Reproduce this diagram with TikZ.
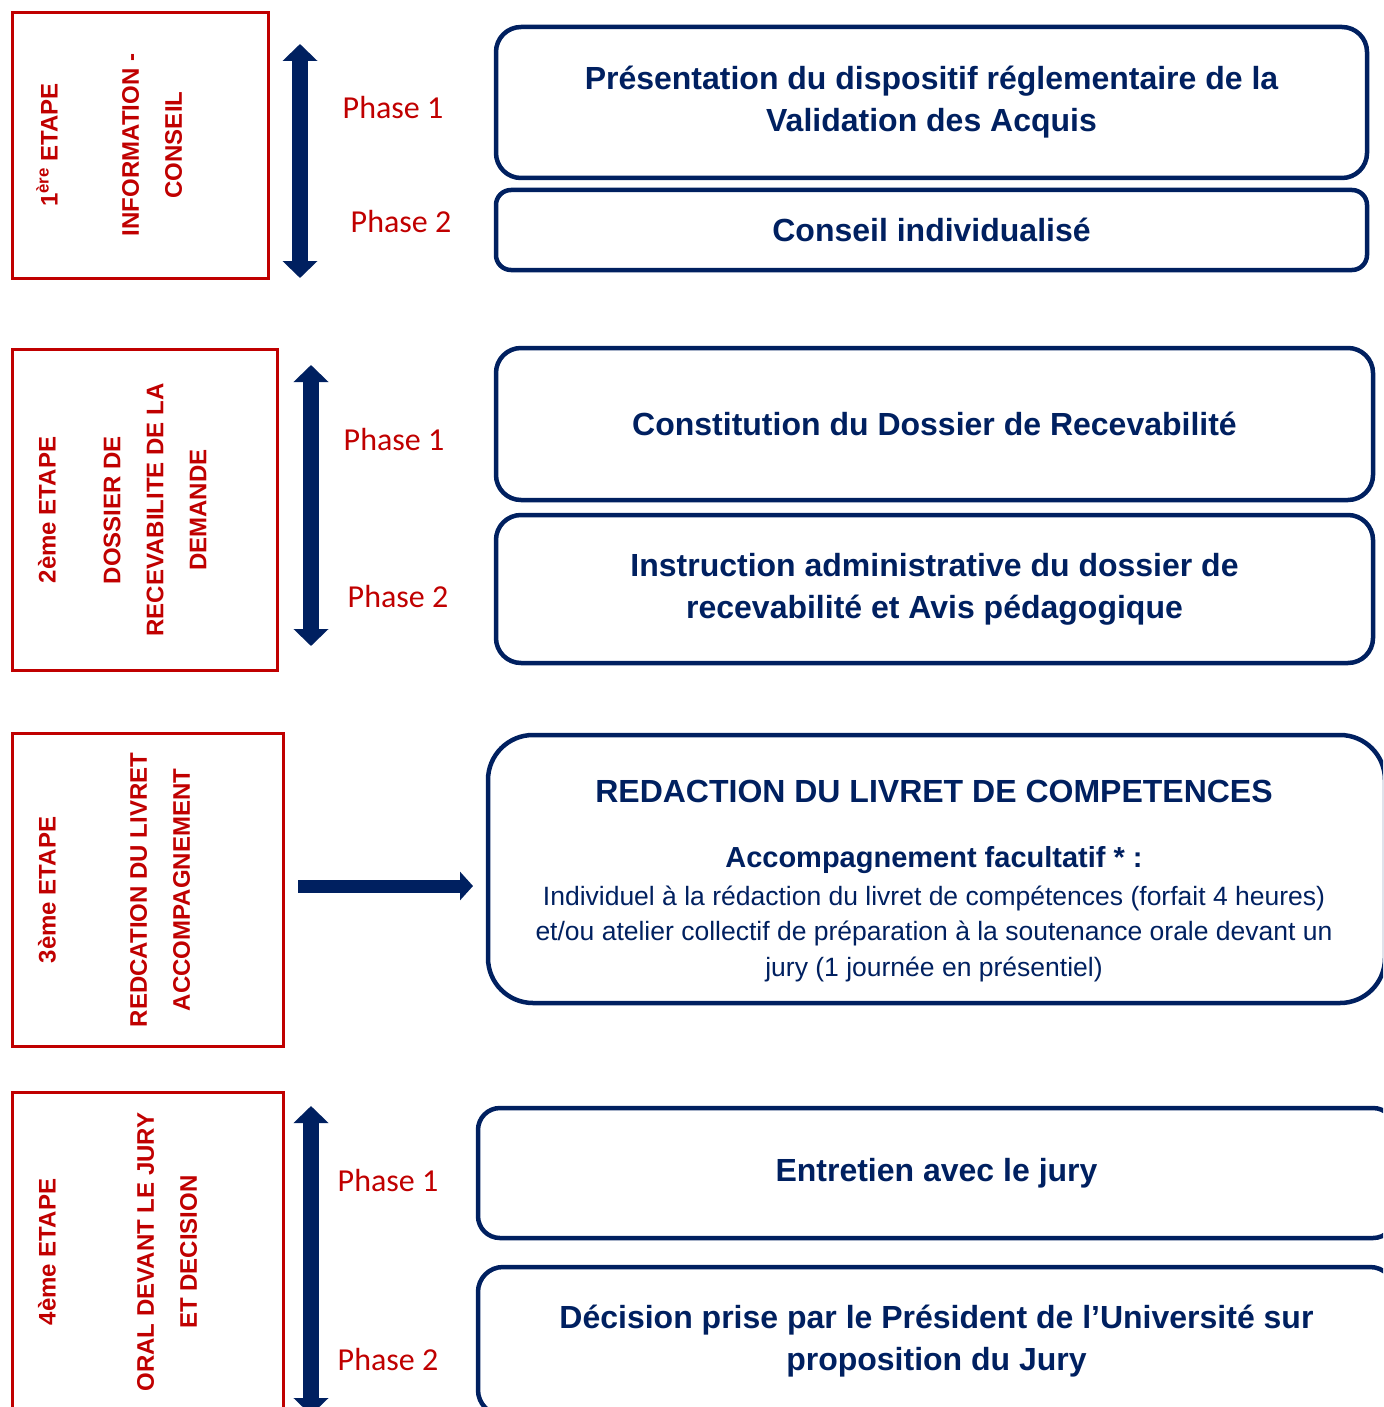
\documentclass[tikz,border=0pt]{standalone}
\usepackage{fontspec}
\setmainfont{Liberation Sans}
\newfontfamily\phasefont{Carlito}
\usetikzlibrary{arrows.meta}
\definecolor{vred}{HTML}{C00000}
\definecolor{vnavy}{HTML}{002060}

\begin{document}
\begin{tikzpicture}
  [x=1pt,y=-1pt,
   etape/.style={draw=vred,line width=3pt,inner sep=0pt},
   etapetext/.style={text=vred,font=\bfseries\fontsize{24}{43}\selectfont,rotate=90,align=center,inner sep=0pt},
   phase/.style={text=vred,font=\phasefont\fontsize{32}{38}\selectfont,inner sep=0pt},
   stepbox/.style={draw=vnavy,line width=4.5pt,text=vnavy,rounded corners=#1,
     font=\bfseries\fontsize{32}{42}\selectfont,align=center,inner sep=0pt},
   stepbox/.default=25pt,
   bigarrow/.style={vnavy,line width=16pt,{Triangle[width=34pt,length=17pt]}-{Triangle[width=34pt,length=17pt]}}]
  \useasboundingbox (0,0) rectangle (1383,1407);
  \clip (0,0) rectangle (1383,1407);

  \node[etape,minimum width=256pt,minimum height=265pt] (e1) at (140,145.5) {};
  \node[etape,minimum width=265pt,minimum height=321pt] (e2) at (144.5,509.5) {};
  \node[etape,minimum width=271pt,minimum height=313pt] (e3) at (147.5,889.5) {};
  \node[etape,minimum width=271pt,minimum height=320pt] (e4) at (147.5,1252) {};
  \node[etapetext] (e1a) at (47,145) {1\textsuperscript{ère} ETAPE};
  \node[etapetext] (e1b) at (152,145) {INFORMATION -\\CONSEIL};
  \node[etapetext] (e2a) at (47,510) {2ème ETAPE};
  \node[etapetext] (e2b) at (155,510) {DOSSIER DE\\RECEVABILITE DE LA\\DEMANDE};
  \node[etapetext] (e3a) at (47,890) {3ème ETAPE};
  \node[etapetext] (e3b) at (160,890) {REDCATION DU LIVRET\\ACCOMPAGNEMENT};
  \node[etapetext] (e4a) at (47,1252) {4ème ETAPE};
  \node[etapetext] (e4b) at (167,1252) {ORAL DEVANT LE JURY\\ET DECISION};

  \node[phase] (p11) at (393,108) {Phase 1};
  \node[phase] (p12) at (401,222) {Phase 2};
  \node[phase] (p21) at (394,440) {Phase 1};
  \node[phase] (p22) at (398,597) {Phase 2};
  \node[phase] (p41) at (388,1180) {Phase 1};
  \node[phase] (p42) at (388,1359) {Phase 2};

  \node[stepbox,minimum width=871pt,minimum height=151pt] (s11) at (931.5,102.5)
    {Présentation du dispositif réglementaire de la\\Validation des Acquis};
  \node[stepbox=15pt,minimum width=871pt,minimum height=80pt] (s12) at (931.5,230)
    {Conseil individualisé};
  \node[stepbox,minimum width=877pt,minimum height=152pt] (s21) at (934.5,424)
    {Constitution du Dossier de Recevabilité};
  \node[stepbox,minimum width=877pt,minimum height=148pt] (s22) at (934.5,589)
    {Instruction administrative du dossier de\\recevabilité et Avis pédagogique};
  \node[stepbox=45pt,minimum width=897pt,minimum height=268pt] (s3) at (936.5,869) {};
  \node[text=vnavy,align=center,inner sep=0pt,font=\fontsize{26.5}{35.5}\selectfont] (s3t) at (934,881)
    {{\bfseries\fontsize{32}{38}\selectfont REDACTION DU LIVRET DE COMPETENCES}\\[30pt]
     {\bfseries\fontsize{29}{36}\selectfont Accompagnement facultatif * :}\\[2pt]
     Individuel à la rédaction du livret de compétences (forfait 4 heures)\\
     et/ou atelier collectif de préparation à la soutenance orale devant un\\
     jury (1 journée en présentiel)};
  \node[stepbox=22pt,minimum width=917pt,minimum height=130pt] (s41) at (936.5,1173)
    {Entretien avec le jury};
  \node[stepbox,minimum width=917pt,minimum height=148pt] (s42) at (936.5,1341)
    {Décision prise par le Président de l’Université sur\\proposition du Jury};

  \coordinate (a1t) at (300,44);
  \coordinate (a1b) at (300,278);
  \coordinate (a2t) at (311,365);
  \coordinate (a2b) at (311,646);
  \coordinate (a4t) at (311,1106);
  \coordinate (a4b) at (311,1415);
  \coordinate (a3s) at (298,886);
  \coordinate (a3e) at (473,886);
  \foreach \from/\to in {a1t/a1b,a2t/a2b,a4t/a4b}
    \draw[bigarrow] (\from) -- (\to);
  \draw[vnavy,line width=13pt,-{Triangle[width=28pt,length=13pt]}] (a3s) -- (a3e);
\end{tikzpicture}
\end{document}
